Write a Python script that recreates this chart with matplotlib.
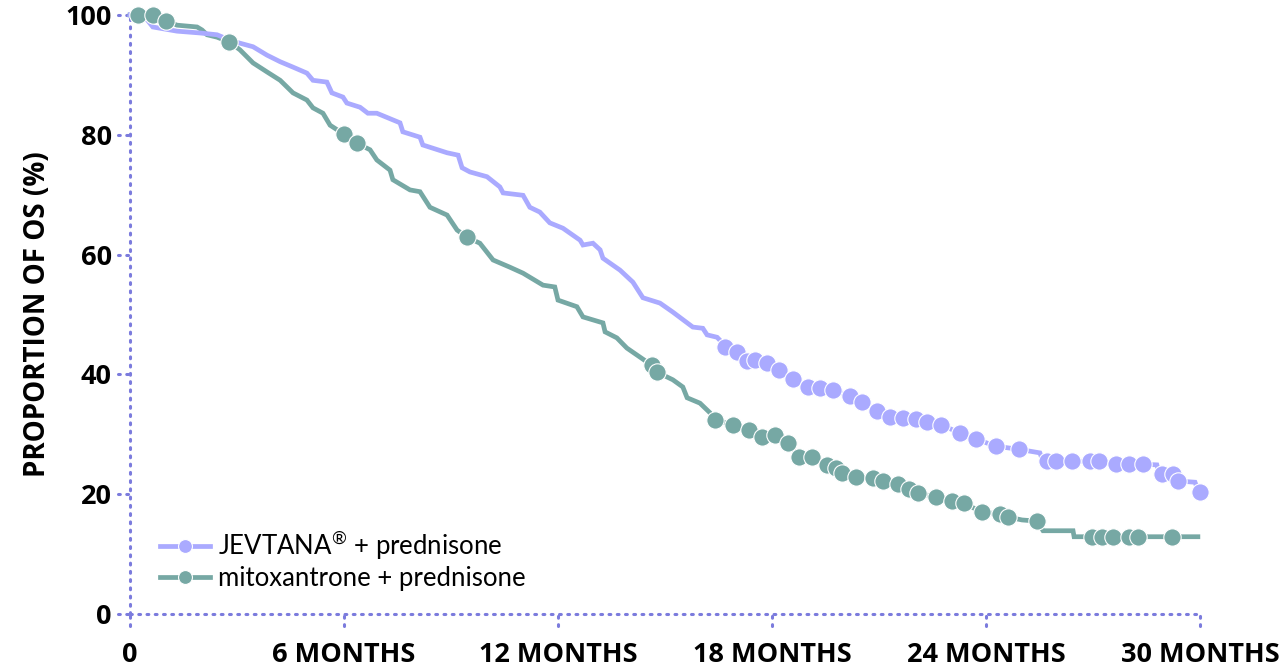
import matplotlib
matplotlib.use("Agg")
import matplotlib.pyplot as plt
from matplotlib.transforms import blended_transform_factory

plt.rcParams['font.family'] = ['Lato', 'DejaVu Sans']
plt.rcParams['mathtext.fontset'] = 'custom'
plt.rcParams['mathtext.rm'] = 'Lato'

# months / percent surviving
jev_months = [0, 0.48, 0.64, 1.32, 1.96, 2.44, 2.80, 3.08, 3.45, 3.84, 4.21, 4.57,
              4.96, 5.13, 5.52, 5.66, 5.97, 6.08, 6.45, 6.67, 6.92, 7.57, 7.65,
              8.13, 8.21, 8.89, 9.20, 9.31, 9.53, 10.01, 10.37, 10.46, 11.02,
              11.21, 11.49, 11.77, 12.14, 12.62, 12.70, 12.98, 13.18, 13.26,
              13.74, 14.10, 14.38, 14.86, 15.22, 15.78, 16.06, 16.18, 16.46,
              16.62, 25.51, 25.60, 28.79, 28.85, 29.86, 29.95]
jev_os = [100, 99.2, 98.0, 97.3, 97.0, 96.7, 95.8, 95.3, 94.7, 93.3, 92.2, 91.3,
          90.3, 89.1, 88.8, 87.0, 86.3, 85.3, 84.6, 83.6, 83.6, 82.0, 80.5,
          79.6, 78.3, 77.0, 76.6, 74.5, 73.8, 73.0, 71.3, 70.3, 69.9,
          67.9, 67.1, 65.3, 64.4, 62.4, 61.6, 61.9, 60.8, 59.4,
          57.4, 55.4, 52.8, 51.9, 50.4, 47.9, 47.7, 46.6, 46.2,
          45.2, 26.9, 25.5, 24.9, 23.6, 22.0, 20.6]

# censored patients (circles)
jev_cens_months = [16.68, 17.02, 17.30, 17.52, 17.86, 18.19, 18.59, 19.01, 19.34,
                   19.71, 20.19, 20.52, 20.94, 21.31, 21.67, 22.04, 22.34, 22.74,
                   23.27, 23.72, 24.28, 24.92, 25.71, 25.96, 26.41, 26.91, 27.17,
                   27.64, 28.01, 28.40, 28.93, 29.24, 29.38, 30.00]
jev_cens_os = [44.6, 43.7, 42.2, 42.4, 41.9, 40.7, 39.2, 37.9, 37.7,
               37.4, 36.4, 35.4, 33.9, 32.9, 32.7, 32.6, 32.1, 31.6,
               30.2, 29.2, 28.0, 27.5, 25.5, 25.5, 25.5, 25.5, 25.5,
               25.0, 25.0, 25.0, 23.4, 23.4, 22.2, 20.4]

mit_months = [0, 1.32, 1.88, 2.02, 2.16, 2.44, 3.08, 3.45, 3.84, 4.21, 4.57, 4.96,
              5.13, 5.41, 5.61, 6.73, 6.92, 7.29, 7.37, 7.85, 8.13, 8.41, 8.89,
              9.17, 9.81, 10.18, 10.65, 11.02, 11.58, 11.91, 12.00, 12.53, 12.70,
              13.26, 13.32, 13.65, 13.93, 14.10, 14.49, 15.22, 15.50, 15.62,
              15.98, 16.26, 25.01, 25.60, 26.44, 26.47, 29.94]
mit_os = [100, 98.3, 98.0, 97.5, 96.7, 96.3, 94.2, 92.0, 90.5, 89.1, 87.0, 85.8,
          84.5, 83.6, 81.6, 77.5, 75.8, 74.1, 72.5, 70.8, 70.5, 67.9, 66.6,
          64.1, 61.9, 59.1, 57.9, 56.9, 54.9, 54.6, 52.4, 51.3, 49.6,
          48.6, 47.1, 46.1, 44.4, 43.7, 42.1, 39.1, 37.9, 36.1,
          35.2, 33.6, 15.7, 13.9, 13.9, 12.9, 12.9]

mit_cens_months = [0.22, 0.64, 1.01, 2.78, 6.00, 6.36, 9.45, 14.63, 14.77, 16.40,
                   16.91, 17.35, 17.72, 18.08, 18.45, 18.76, 19.12, 19.54, 19.79,
                   19.96, 20.35, 20.83, 21.11, 21.53, 21.84, 22.09, 22.60, 23.04,
                   23.38, 23.89, 24.39, 24.61, 25.43, 26.97, 27.25, 27.56, 28.01,
                   28.26, 29.21]
mit_cens_os = [100.0, 100.0, 99.0, 95.5, 80.1, 78.6, 62.9, 41.6, 40.4, 32.4,
               31.6, 30.7, 29.5, 29.9, 28.5, 26.2, 26.2, 24.9, 24.4,
               23.5, 22.9, 22.7, 22.2, 21.7, 20.9, 20.2, 19.5, 18.9,
               18.5, 17.0, 16.7, 16.2, 15.5, 12.9, 12.9, 12.9, 12.9,
               12.9, 12.9]

x_ticks = [0, 6, 12, 18, 24, 30]
x_labels = ['0', '6 MONTHS', '12 MONTHS', '18 MONTHS', '24 MONTHS', '30 MONTHS']
y_ticks = [0, 20, 40, 60, 80, 100]
series_names = ['JEVTANA$^{\\circledR}$ + prednisone', 'mitoxantrone + prednisone']

JEV = '#aaaaff'
MIT = '#76a8a4'
AXC = '#7b7bdd'
BOLD = ['Open Sans', 'DejaVu Sans']

fig = plt.figure(figsize=(12.85, 6.68), dpi=100)
ax = fig.add_axes([130 / 1285, 54 / 668, 1070 / 1285, 599 / 668])


def merged(m, v, cm, cv):
    pts = sorted(zip(list(m) + list(cm), list(v) + list(cv)))
    return [p[0] for p in pts], [p[1] for p in pts]


for m, v, cm, cv, col in [
        (mit_months, mit_os, mit_cens_months, mit_cens_os, MIT),
        (jev_months, jev_os, jev_cens_months, jev_cens_os, JEV)]:
    lx, ly = merged(m, v, cm, cv)
    ax.plot(lx, ly, color=col, lw=3.4, solid_joinstyle='miter', clip_on=False, zorder=2)
    ax.plot(cm, cv, 'o', color=col, ms=12.5, mec='white', mew=0.8, clip_on=False, zorder=3)

ax.set_xlim(0, 30)
ax.set_ylim(0, 100)

for s in ['top', 'right', 'left', 'bottom']:
    ax.spines[s].set_visible(False)

# dotted axes and dotted tick marks
dots = dict(color=AXC, lw=2.2, ls=(0, (0.6, 2.1)), dash_capstyle='round', clip_on=False, zorder=1)
ax.plot([0, 0], [0, 100], **dots)
ax.plot([0, 30], [0, 0], **dots)
ty = blended_transform_factory(ax.transAxes, ax.transData)
tx = blended_transform_factory(ax.transData, ax.transAxes)
for y in y_ticks:
    ax.plot([-12 / 1070, 0], [y, y], transform=ty, **dots)
for x in x_ticks:
    ax.plot([x, x], [-12 / 599, 0], transform=tx, **dots)

ax.set_xticks(x_ticks)
ax.set_xticklabels(x_labels)
ax.set_yticks(y_ticks)
ax.tick_params(length=0, labelsize=19.5)
ax.tick_params(axis='x', pad=20)
ax.tick_params(axis='y', pad=13)
for t in ax.get_xticklabels() + ax.get_yticklabels():
    t.set_fontweight('bold')
    t.set_family(BOLD)

ax.set_ylabel('PROPORTION OF OS (%)', fontsize=20, fontweight='bold', family=BOLD, labelpad=10)

h1, = ax.plot([], [], '-o', color=JEV, lw=3.4, ms=10, mec='white', mew=0.8)
h2, = ax.plot([], [], '-o', color=MIT, lw=3.4, ms=10, mec='white', mew=0.8)
ax.legend([h1, h2], series_names,
          loc='upper left', bbox_to_anchor=(30 / 1070, 0.143), frameon=False,
          fontsize=18.5, handlelength=1.95, handletextpad=0.32, labelspacing=0.15,
          borderaxespad=0, borderpad=0)

fig.savefig('out.png', dpi=100)
